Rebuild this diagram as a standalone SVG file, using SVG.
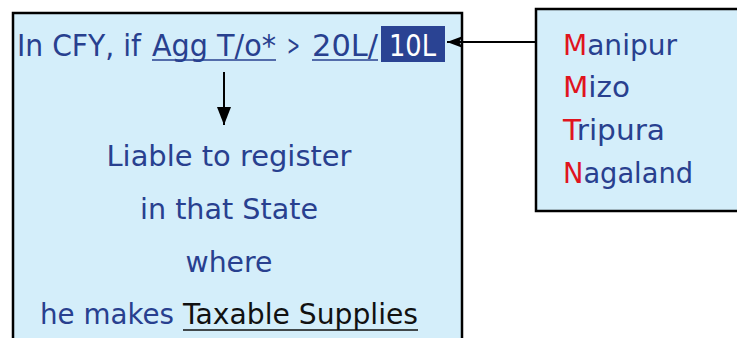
<svg xmlns="http://www.w3.org/2000/svg" width="737" height="338" viewBox="0 0 737 338">
<defs>
<style>
.box{fill:#d4eefa;stroke:#000;stroke-width:2.5}
.t{font-family:"DejaVu Sans","Liberation Sans",sans-serif;font-size:29px;fill:#28408f}
.h{font-size:31px}
.k{fill:#111}
.w{fill:#fff}
.r{fill:#e0141e}
.u{stroke:#28408f;stroke-width:1.6}
.ub{stroke:#111;stroke-width:1.6}
.c{stroke:#000;stroke-width:2;fill:none}
</style>
<marker id="ah" viewBox="0 0 16 12" refX="16" refY="6" markerWidth="16" markerHeight="12" markerUnits="userSpaceOnUse" orient="auto">
<path d="M0,0 L16,6 L0,12 L4,6 Z" fill="#000"/>
</marker>
<marker id="ad" viewBox="0 0 18 14" refX="18" refY="7" markerWidth="18" markerHeight="14" markerUnits="userSpaceOnUse" orient="auto">
<path d="M0,0 L18,7 L0,14 Z" fill="#000"/>
</marker>
</defs>
<g id="node-main">
<rect class="box" x="13" y="13" width="449" height="340"/>
<rect x="381" y="26" width="64" height="36" fill="#2a4393"/>
<text class="t h" x="17" y="56" textLength="124" lengthAdjust="spacingAndGlyphs">In CFY, if</text>
<text class="t h" x="152" y="56" textLength="124" lengthAdjust="spacingAndGlyphs">Agg T/o*</text>
<line class="u" x1="152" y1="60" x2="276" y2="60"/>
<text class="t" x="287" y="55" font-size="24" textLength="13" lengthAdjust="spacingAndGlyphs">&gt;</text>
<text class="t h" x="312" y="56" textLength="66" lengthAdjust="spacingAndGlyphs">20L/</text>
<line class="u" x1="312" y1="60" x2="378" y2="60"/>
<text class="t h w" x="389" y="56" textLength="47" lengthAdjust="spacingAndGlyphs">10L</text>
<text class="t" x="229" y="166" text-anchor="middle" textLength="245" lengthAdjust="spacingAndGlyphs">Liable to register</text>
<text class="t" x="229" y="219" text-anchor="middle" textLength="178" lengthAdjust="spacingAndGlyphs">in that State</text>
<text class="t" x="229" y="272" text-anchor="middle" textLength="87" lengthAdjust="spacingAndGlyphs">where</text>
<text class="t" x="40" y="324" textLength="134" lengthAdjust="spacingAndGlyphs">he makes</text>
<text class="t k" x="183" y="324" textLength="235" lengthAdjust="spacingAndGlyphs">Taxable Supplies</text>
<line class="ub" x1="183" y1="330" x2="418" y2="330"/>
</g>
<g id="node-states">
<rect class="box" x="536" y="9" width="210" height="202"/>
<text class="t" x="563" y="55" textLength="114" lengthAdjust="spacingAndGlyphs"><tspan class="r">M</tspan>anipur</text>
<text class="t" x="563" y="97" textLength="67" lengthAdjust="spacingAndGlyphs"><tspan class="r">M</tspan>izo</text>
<text class="t" x="563" y="140" textLength="102" lengthAdjust="spacingAndGlyphs"><tspan class="r">T</tspan>ripura</text>
<text class="t" x="563" y="183" textLength="130" lengthAdjust="spacingAndGlyphs"><tspan class="r">N</tspan>agaland</text>
</g>
<g id="connectors">
<line class="c" x1="536" y1="42" x2="447" y2="42" marker-end="url(#ah)"/>
<line class="c" x1="224" y1="72" x2="224" y2="125" marker-end="url(#ad)"/>
</g>
</svg>
